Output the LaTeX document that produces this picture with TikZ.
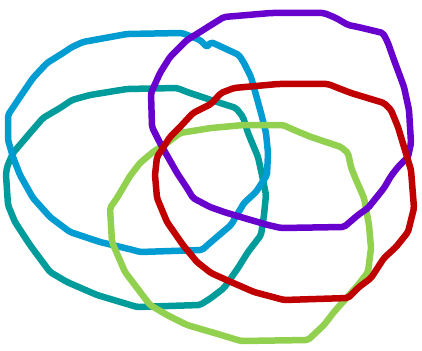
\documentclass[tikz,border=0pt]{standalone}
\definecolor{cblue}{RGB}{0,156,210}
\definecolor{cteal}{RGB}{0,155,155}
\definecolor{cpurple}{RGB}{104,0,206}
\definecolor{cred}{RGB}{192,0,0}
\definecolor{cgreen}{RGB}{146,208,80}
\begin{document}
\begin{tikzpicture}[x=1pt,y=-1pt,
  loop/.style={line width=6.5pt,line join=round,line cap=round,rounded corners=2pt}]
\useasboundingbox (0,0) rectangle (422,350);
% teal
\draw[loop,cteal] (127,89) -- (177,88) -- (187,92) -- (211,100) -- (236,108) -- (243,117) -- (248,133) -- (258,157) -- (262,175) -- (266,195) -- (264,215) -- (261,235) -- (248,252) -- (238,268) -- (224,288) -- (211,298) -- (200,305) -- (137,307) -- (97,295) -- (67,282) -- (50,272) -- (30,245) -- (15,222) -- (8,205) -- (6,175) -- (7,167) -- (13,153) -- (30,133) -- (43,118) -- (60,108) -- (72,100) -- (90,95) -- cycle;
% blue
\draw[loop,cblue] (127,34) -- (182,33) -- (200,40) -- (207,47) -- (211,42) -- (239,55) -- (244,63) -- (251,77) -- (261,113) -- (266,133) -- (268,153) -- (267,175) -- (256,192) -- (244,203) -- (231,225) -- (211,242) -- (202,250) -- (140,252) -- (133,250) -- (100,242) -- (70,232) -- (50,217) -- (33,198) -- (20,175) -- (13,157) -- (8,140) -- (8,115) -- (20,97) -- (33,78) -- (47,63) -- (63,53) -- (72,47) -- (83,42) -- cycle;
% green
\draw[loop,cgreen] (211,128) -- (244,125) -- (283,125) -- (294,130) -- (311,137) -- (341,147) -- (348,153) -- (351,167) -- (354,175) -- (364,198) -- (369,225) -- (371,248) -- (368,272) -- (358,285) -- (334,312) -- (324,325) -- (308,340) -- (241,341) -- (211,332) -- (187,325) -- (167,315) -- (150,305) -- (125,272) -- (112,242) -- (110,208) -- (117,198) -- (130,176) -- (140,163) -- (153,152) -- (167,143) -- (180,133) -- cycle;
% purple
\draw[loop,cpurple] (224,17) -- (271,13) -- (324,13) -- (336,18) -- (348,25) -- (358,27) -- (383,33) -- (388,43) -- (394,60) -- (404,87) -- (409,110) -- (411,143) -- (408,157) -- (398,167) -- (391,176) -- (384,188) -- (376,198) -- (368,208) -- (358,215) -- (344,227) -- (281,228) -- (268,225) -- (244,218) -- (224,212) -- (210,207) -- (193,198) -- (187,188) -- (177,173) -- (160,143) -- (152,127) -- (151,93) -- (160,73) -- (170,57) -- (187,40) -- (200,32) -- (211,25) -- cycle;
% red
\draw[loop,cred] (234,88) -- (278,84) -- (328,84) -- (338,88) -- (351,93) -- (384,103) -- (391,110) -- (398,127) -- (404,147) -- (411,170) -- (414,208) -- (408,232) -- (396,247) -- (384,258) -- (371,278) -- (359,287) -- (348,298) -- (284,300) -- (254,292) -- (231,282) -- (211,273) -- (197,262) -- (183,245) -- (167,222) -- (157,198) -- (155,175) -- (157,157) -- (170,137) -- (180,127) -- (193,113) -- (211,104) -- (221,93) -- cycle;
\end{tikzpicture}
\end{document}
